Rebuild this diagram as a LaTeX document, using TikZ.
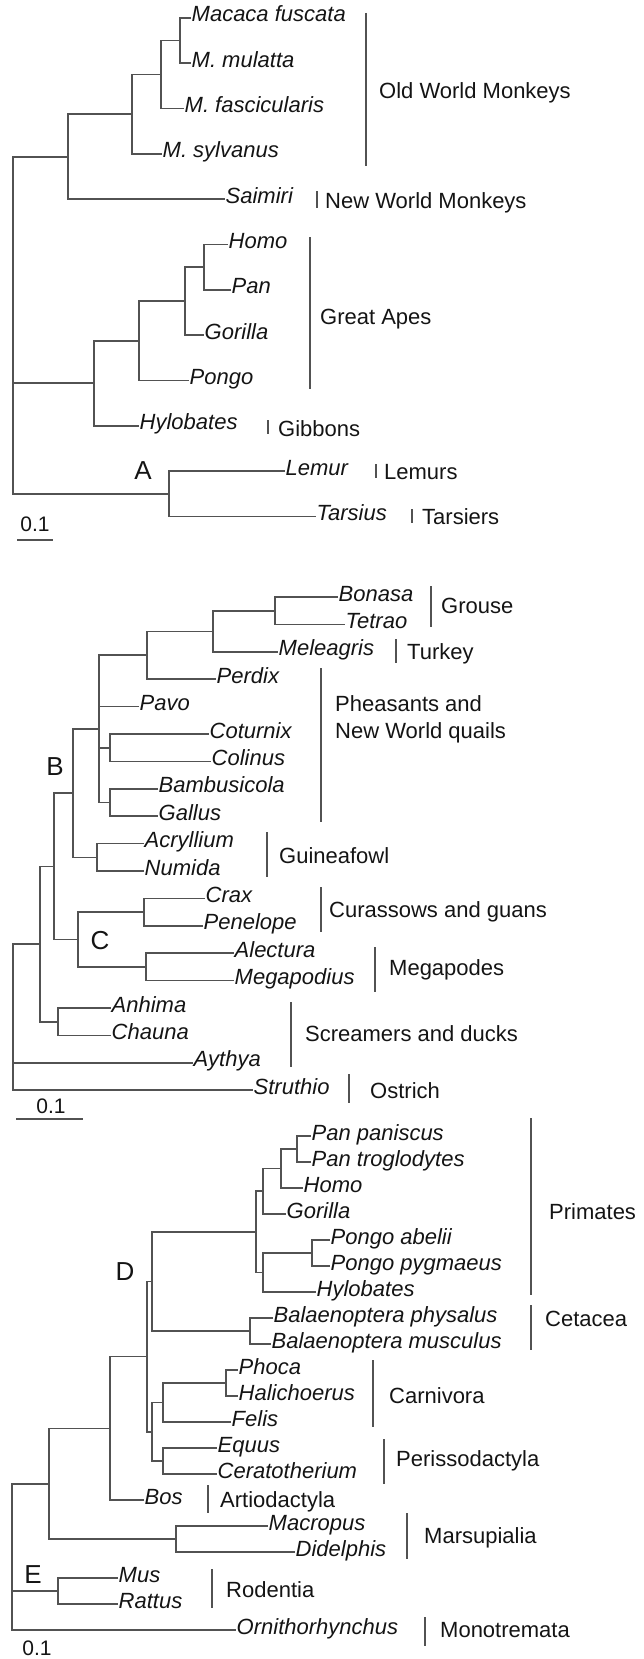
\documentclass[tikz,border=0pt]{standalone}
\usepackage{fontspec}
\setmainfont{Liberation Sans}
\newcommand\leaf[4]{\coordinate (#1) at (#2,#3); \node[sp] (#1t) at ([yshift=-4pt]#1) {#4};}
\newcommand\kid[2]{\draw[br] (#1 |- #2) -- (#2);}
\newcommand\vspan[3]{\draw[br] (#1 |- #2) -- (#1 |- #3);}
\newcommand\grpbar[6]{\coordinate (#1a) at (#2,#3); \coordinate (#1b) at (#2,#4); \draw[bar] (#1a) -- (#1b); \node[grp] (#1) at (#5) {#6};}
\begin{document}
\begin{tikzpicture}[x=1pt,y=-1pt,
  br/.style={draw=black!68, line width=1.6pt, line cap=rect},
  bar/.style={draw=black!68, line width=1.6pt},
  sp/.style={anchor=base west, inner sep=1.5pt, font=\fontsize{22}{25}\selectfont\itshape, text=black!92},
  grp/.style={anchor=base west, inner sep=0pt, align=left, font=\fontsize{22}{27}\selectfont, text=black!92},
  lett/.style={font=\fontsize{26}{30}\selectfont, inner sep=0pt, text=black!92},
  sc/.style={font=\fontsize{21}{24}\selectfont, inner sep=0pt, text=black!92}]
\useasboundingbox (0,0) rectangle (643,1659);

% ================= Panel A =================
\leaf{fusc}{190}{18}{Macaca fuscata}
\leaf{mul}{190}{63.3}{M. mulatta}
\leaf{fasc}{183}{108.6}{M. fascicularis}
\leaf{sylv}{161}{153.9}{M. sylvanus}
\leaf{saim}{224}{199.2}{Saimiri}
\leaf{homo}{227}{244.5}{Homo}
\leaf{pan}{230}{289.8}{Pan}
\leaf{gor}{203}{335.1}{Gorilla}
\leaf{pongo}{188}{380.4}{Pongo}
\leaf{hylo}{138}{425.7}{Hylobates}
\leaf{lemur}{284}{471}{Lemur}
\leaf{tars}{315}{516.3}{Tarsius}

\coordinate (aFM) at (180,40.65);
\coordinate (aFMF) at (161,74.6);
\coordinate (aOWM) at (132,114.3);
\coordinate (aMon) at (68,156.7);
\coordinate (aHP) at (204,267.2);
\coordinate (aHPG) at (185,301.1);
\coordinate (aGA) at (139,340.8);
\coordinate (aApe) at (94,383.2);
\coordinate (aLT) at (169,493.7);
\coordinate (aR) at (13,0);

\vspan{aFM}{fusc}{mul} \kid{aFM}{fusc} \kid{aFM}{mul}
\vspan{aFMF}{aFM}{fasc} \kid{aFMF}{aFM} \kid{aFMF}{fasc}
\vspan{aOWM}{aFMF}{sylv} \kid{aOWM}{aFMF} \kid{aOWM}{sylv}
\vspan{aMon}{aOWM}{saim} \kid{aMon}{aOWM} \kid{aMon}{saim}
\vspan{aHP}{homo}{pan} \kid{aHP}{homo} \kid{aHP}{pan}
\vspan{aHPG}{aHP}{gor} \kid{aHPG}{aHP} \kid{aHPG}{gor}
\vspan{aGA}{aHPG}{pongo} \kid{aGA}{aHPG} \kid{aGA}{pongo}
\vspan{aApe}{aGA}{hylo} \kid{aApe}{aGA} \kid{aApe}{hylo}
\vspan{aLT}{lemur}{tars} \kid{aLT}{lemur} \kid{aLT}{tars}
\vspan{aR}{aMon}{aLT} \kid{aR}{aMon} \kid{aR}{aApe} \kid{aR}{aLT}

\grpbar{owm}{366}{13}{166}{379,99}{Old World Monkeys}
\grpbar{nwm}{317}{191}{208}{325,208}{New World Monkeys}
\grpbar{gape}{310}{237}{389}{320,324}{Great Apes}
\grpbar{gib}{268}{420}{434}{278,436}{Gibbons}
\grpbar{lem}{376}{464}{478}{384,479}{Lemurs}
\grpbar{tar}{412}{509}{523}{422,524}{Tarsiers}

\node[lett] (labA) at (143,471) {A};
\node[sc] (scA) at (35,524) {0.1};
\coordinate (scAa) at (17,540); \coordinate (scAb) at (53,540);
\draw[bar] (scAa) -- (scAb);

% ================= Panel B =================
\leaf{bonasa}{337}{597}{Bonasa}
\leaf{tetrao}{344}{624.4}{Tetrao}
\leaf{melea}{277}{651.8}{Meleagris}
\leaf{perdix}{215}{679.2}{Perdix}
\leaf{pavo}{138}{706.6}{Pavo}
\leaf{cotur}{208}{734}{Coturnix}
\leaf{colin}{210}{761.4}{Colinus}
\leaf{bambu}{157}{788.8}{Bambusicola}
\leaf{gallus}{157}{816.2}{Gallus}
\leaf{acryl}{143}{843.6}{Acryllium}
\leaf{numida}{143}{871}{Numida}
\leaf{crax}{204}{898.4}{Crax}
\leaf{penel}{202}{925.8}{Penelope}
\leaf{alect}{233}{953.2}{Alectura}
\leaf{megap}{233}{980.6}{Megapodius}
\leaf{anhima}{110}{1008}{Anhima}
\leaf{chauna}{110}{1035.4}{Chauna}
\leaf{aythya}{192}{1062.8}{Aythya}
\leaf{struth}{252}{1090.2}{Struthio}

\coordinate (bGr) at (275,610.7);
\coordinate (bGM) at (213,631.3);
\coordinate (bGMP) at (147,655.2);
\coordinate (bCC) at (110,747.7);
\coordinate (bBG) at (110,802.5);
\coordinate (bPh) at (99,728.9);
\coordinate (bNG) at (97,857.3);
\coordinate (bCore) at (73,793.1);
\coordinate (bCrx) at (144,912.1);
\coordinate (bMeg) at (146,966.9);
\coordinate (bC) at (78,939.5);
\coordinate (bB) at (54,866.3);
\coordinate (bScr) at (58,1021.7);
\coordinate (bGal) at (40,944);
\coordinate (bR) at (13,0);

\vspan{bGr}{bonasa}{tetrao} \kid{bGr}{bonasa} \kid{bGr}{tetrao}
\vspan{bGM}{bGr}{melea} \kid{bGM}{bGr} \kid{bGM}{melea}
\vspan{bGMP}{bGM}{perdix} \kid{bGMP}{bGM} \kid{bGMP}{perdix}
\vspan{bCC}{cotur}{colin} \kid{bCC}{cotur} \kid{bCC}{colin}
\vspan{bBG}{bambu}{gallus} \kid{bBG}{bambu} \kid{bBG}{gallus}
\vspan{bPh}{bGMP}{bBG} \kid{bPh}{bGMP} \kid{bPh}{pavo} \kid{bPh}{bCC} \kid{bPh}{bBG}
\draw[br, line width=2.8pt, line cap=butt] (99,680) -- (99,709);
\draw[br, line width=2.8pt, line cap=butt] (99,749) -- (99,775);
\vspan{bNG}{acryl}{numida} \kid{bNG}{acryl} \kid{bNG}{numida}
\vspan{bCore}{bPh}{bNG} \kid{bCore}{bPh} \kid{bCore}{bNG}
\vspan{bCrx}{crax}{penel} \kid{bCrx}{crax} \kid{bCrx}{penel}
\vspan{bMeg}{alect}{megap} \kid{bMeg}{alect} \kid{bMeg}{megap}
\vspan{bC}{bCrx}{bMeg} \kid{bC}{bCrx} \kid{bC}{bMeg}
\vspan{bB}{bCore}{bC} \kid{bB}{bCore} \kid{bB}{bC}
\vspan{bScr}{anhima}{chauna} \kid{bScr}{anhima} \kid{bScr}{chauna}
\vspan{bGal}{bB}{bScr} \kid{bGal}{bB} \kid{bGal}{bScr}
\vspan{bR}{bGal}{struth} \kid{bR}{bGal} \kid{bR}{aythya} \kid{bR}{struth}

\grpbar{grouse}{431}{586}{627}{441,613}{Grouse}
\grpbar{turkey}{396}{639}{663}{407,659}{Turkey}
\grpbar{pheas}{321}{668}{822}{335,738}{Pheasants and\\New World quails}
\grpbar{guinea}{267}{832}{877}{279,863}{Guineafowl}
\grpbar{curas}{321}{887}{932}{329,917}{Curassows and guans}
\grpbar{megapo}{375}{947}{992}{389,975}{Megapodes}
\grpbar{scream}{291}{1002}{1067}{305,1041}{Screamers and ducks}
\grpbar{ostr}{349}{1074}{1103}{370,1098}{Ostrich}

\node[lett] (labB) at (55,767) {B};
\node[lett] (labC) at (100,941) {C};
\node[sc] (scB) at (51,1106) {0.1};
\coordinate (scBa) at (16,1119); \coordinate (scBb) at (83,1119);
\draw[bar] (scBa) -- (scBb);

% ================= Panel C =================
\leaf{panpan}{310}{1136}{Pan paniscus}
\leaf{pantro}{310}{1162}{Pan troglodytes}
\leaf{homoC}{302}{1188}{Homo}
\leaf{gorC}{285}{1214}{Gorilla}
\leaf{pongab}{329}{1240}{Pongo abelii}
\leaf{pongpy}{329}{1266}{Pongo pygmaeus}
\leaf{hyloC}{315}{1292}{Hylobates}
\leaf{bphys}{272}{1318}{Balaenoptera physalus}
\leaf{bmusc}{270}{1344}{Balaenoptera musculus}
\leaf{phoca}{237}{1370}{Phoca}
\leaf{halich}{237}{1396}{Halichoerus}
\leaf{felis}{230}{1422}{Felis}
\leaf{equus}{216}{1448}{Equus}
\leaf{cerato}{216}{1474}{Ceratotherium}
\leaf{bos}{143}{1500}{Bos}
\leaf{macro}{267}{1526}{Macropus}
\leaf{didel}{294}{1552}{Didelphis}
\leaf{mus}{117}{1578}{Mus}
\leaf{rattus}{117}{1604}{Rattus}
\leaf{ornith}{235}{1630}{Ornithorhynchus}

\coordinate (cPP) at (297,1149);
\coordinate (cPPH) at (281,1168.5);
\coordinate (cPHG) at (263,1191.25);
\coordinate (cPo) at (312,1253);
\coordinate (cPoH) at (263,1272.5);
\coordinate (cPri) at (256,1231.9);
\coordinate (cCet) at (250,1331);
\coordinate (cPC) at (152,1281.4);
\coordinate (cPhH) at (226,1383);
\coordinate (cCar) at (163,1402.5);
\coordinate (cPer) at (163,1461);
\coordinate (cCP) at (152,1431.75);
\coordinate (cD) at (147,1356.6);
\coordinate (cDB) at (110,1428.3);
\coordinate (cMar) at (176,1539);
\coordinate (cEu) at (49,1483.7);
\coordinate (cRod) at (58,1591);
\coordinate (cR) at (12,0);

\vspan{cPP}{panpan}{pantro} \kid{cPP}{panpan} \kid{cPP}{pantro}
\vspan{cPPH}{cPP}{homoC} \kid{cPPH}{cPP} \kid{cPPH}{homoC}
\vspan{cPHG}{cPPH}{gorC} \kid{cPHG}{cPPH} \kid{cPHG}{gorC}
\vspan{cPo}{pongab}{pongpy} \kid{cPo}{pongab} \kid{cPo}{pongpy}
\vspan{cPoH}{cPo}{hyloC} \kid{cPoH}{cPo} \kid{cPoH}{hyloC}
\vspan{cPri}{cPHG}{cPoH} \kid{cPri}{cPHG} \kid{cPri}{cPoH}
\vspan{cCet}{bphys}{bmusc} \kid{cCet}{bphys} \kid{cCet}{bmusc}
\vspan{cPC}{cPri}{cCet} \kid{cPC}{cPri} \kid{cPC}{cCet}
\vspan{cPhH}{phoca}{halich} \kid{cPhH}{phoca} \kid{cPhH}{halich}
\vspan{cCar}{cPhH}{felis} \kid{cCar}{cPhH} \kid{cCar}{felis}
\vspan{cPer}{equus}{cerato} \kid{cPer}{equus} \kid{cPer}{cerato}
\vspan{cCP}{cCar}{cPer} \kid{cCP}{cCar} \kid{cCP}{cPer}
\vspan{cD}{cPC}{cCP} \kid{cD}{cPC} \kid{cD}{cCP}
\vspan{cDB}{cD}{bos} \kid{cDB}{cD} \kid{cDB}{bos}
\vspan{cMar}{macro}{didel} \kid{cMar}{macro} \kid{cMar}{didel}
\vspan{cEu}{cDB}{cMar} \kid{cEu}{cDB} \kid{cEu}{cMar}
\vspan{cRod}{mus}{rattus} \kid{cRod}{mus} \kid{cRod}{rattus}
\vspan{cR}{cEu}{ornith} \kid{cR}{cEu} \kid{cR}{cRod} \kid{cR}{ornith}

\grpbar{prim}{531}{1118}{1295}{549,1219}{Primates}
\grpbar{ceta}{531}{1305}{1350}{545,1326}{Cetacea}
\grpbar{carn}{373}{1360}{1427}{389,1403}{Carnivora}
\grpbar{peri}{384}{1439}{1484}{396,1466}{Perissodactyla}
\grpbar{artio}{208}{1485}{1513}{220,1507}{Artiodactyla}
\grpbar{mars}{407}{1513}{1559}{424,1543}{Marsupialia}
\grpbar{rode}{212}{1569}{1608}{226,1597}{Rodentia}
\grpbar{mono}{425}{1617}{1646}{440,1637}{Monotremata}

\node[lett] (labD) at (125,1272) {D};
\node[lett] (labE) at (33,1575) {E};
\node[sc] (scC) at (37,1648) {0.1};
\end{tikzpicture}
\end{document}
